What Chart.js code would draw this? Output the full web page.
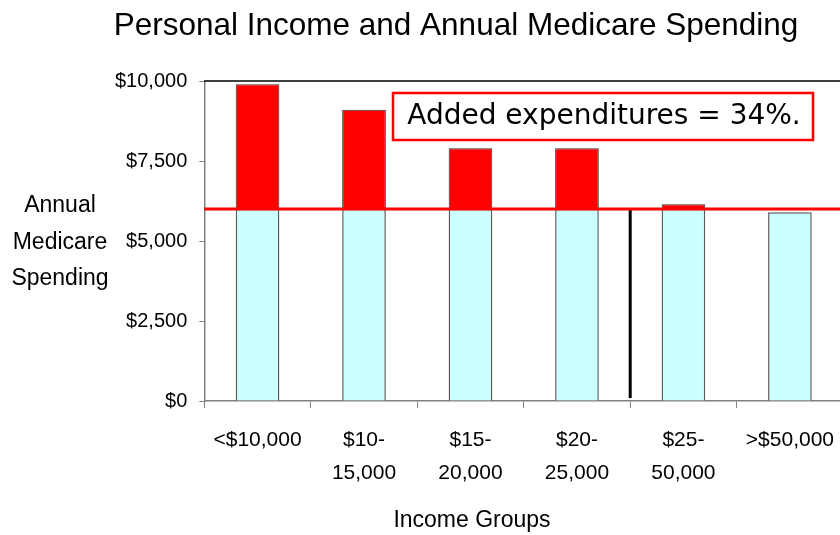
<!DOCTYPE html>
<html>
<head>
<meta charset="utf-8">
<script src="https://cdn.jsdelivr.net/npm/chart.js@4"></script>
<style>
  html, body { margin: 0; padding: 0; background: #fff; overflow: hidden; }
  #wrap { width: 850px; height: 535px; }
</style>
</head>
<body>
<div id="wrap"><canvas id="medicareChart" width="850" height="535"></canvas></div>
<script>
// data
const incomeGroups = [
    '<$10,000',
    ['$10-', '15,000'],
    ['$15-', '20,000'],
    ['$20-', '25,000'],
    ['$25-', '50,000'],
    '>$50,000'
];
const spending = [9900, 9100, 7900, 7900, 6150, 5900];
const baseline = 6000;          // red reference line
const dividerIndex = 3.5;       // black separator between $20-25k and $25-50k
const yTicks = [0, 2500, 5000, 7500, 10000];

// split each bar into the part up to the baseline and the added part
const basePart = spending.map(v => Math.min(v, baseline));
const addedPart = spending.map(v => Math.max(v - baseline, 0));

const FONT = "'Liberation Sans', Arial, sans-serif";

//draws the extra lines and texts that are not part of the chart itself
const extrasPlugin = {
    id: 'extras',
    afterDatasetsDraw(chart) {
        const ctx = chart.ctx;
        const area = chart.chartArea;
        const x = chart.scales.x;
        const y = chart.scales.y;

        ctx.save();

        // top border of plot area
        ctx.strokeStyle = '#000';
        ctx.lineWidth = 1.5;
        ctx.beginPath();
        ctx.moveTo(area.left, area.top);
        ctx.lineTo(area.right, area.top);
        ctx.stroke();

        // black separator
        const dx = x.getPixelForValue(dividerIndex);
        ctx.lineWidth = 3;
        ctx.beginPath();
        ctx.moveTo(dx, y.getPixelForValue(baseline));
        ctx.lineTo(dx, y.getPixelForValue(0) - 3);
        ctx.stroke();

        // red baseline
        const by = y.getPixelForValue(baseline);
        ctx.strokeStyle = '#ff0000';
        ctx.lineWidth = 3;
        ctx.beginPath();
        ctx.moveTo(area.left, by);
        ctx.lineTo(area.right, by);
        ctx.stroke();

        // annotation box
        ctx.fillStyle = '#fff';
        ctx.fillRect(393, 93, 420, 47);
        ctx.strokeStyle = '#ff0000';
        ctx.lineWidth = 2.5;
        ctx.strokeRect(393, 93, 420, 47);
        ctx.fillStyle = '#000';
        ctx.font = "28px 'Comic Sans MS', 'DejaVu Sans', sans-serif";
        ctx.textAlign = 'center';
        ctx.textBaseline = 'middle';
        ctx.fillText('Added expenditures = 34%.', 604, 117);

        // y axis title, not rotated
        ctx.font = '23px ' + FONT;
        ctx.fillText('Annual', 60, 206);
        ctx.fillText('Medicare', 60, 243);
        ctx.fillText('Spending', 60, 279);

        // x axis title
        ctx.fillText('Income Groups', 472, 521);

        // main title
        ctx.font = '31.5px ' + FONT;
        ctx.textBaseline = 'alphabetic';
        ctx.fillText('Personal Income and Annual Medicare Spending', 456, 35);

        ctx.restore();
    }
};

document.addEventListener('DOMContentLoaded', () => {
    const ctx = document.getElementById('medicareChart').getContext('2d');

    new Chart(ctx, {
        type: 'bar',
        data: {
            labels: incomeGroups,
            datasets: [{
                label: 'Spending',
                data: basePart,
                backgroundColor: '#ccffff',
                borderColor: '#5a5a5a',
                borderWidth: 1.5
            }, {
                label: 'Added',
                data: addedPart,
                backgroundColor: '#ff0000',
                borderColor: '#303030',
                borderWidth: 1
            }]
        },
        options: {
            responsive: false,
            animation: false,
            events: [],
            layout: { padding: { left: 103, right: 0, top: 81, bottom: 29 } },
            datasets: { bar: { barPercentage: 0.41, categoryPercentage: 1 } },
            plugins: {
                legend: { display: false },
                tooltip: { enabled: false },
                title: { display: false }
            },
            scales: {
                x: {
                    stacked: true,
                    grid: { drawOnChartArea: false, tickLength: 7, color: '#808080', offset: true },
                    border: { color: '#808080', width: 1.5 },
                    ticks: {
                        color: '#000',
                        font: { family: FONT, size: 21, lineHeight: 1.57 },
                        padding: 16,
                        maxRotation: 0,
                        autoSkip: false
                    }
                },
                y: {
                    stacked: true,
                    min: 0,
                    max: 10000,
                    afterBuildTicks: scale => { scale.ticks = yTicks.map(v => ({ value: v })); },
                    grid: { drawOnChartArea: false, tickLength: 5, color: '#808080' },
                    border: { color: '#808080', width: 1.5 },
                    ticks: {
                        color: '#000',
                        font: { family: FONT, size: 20 },
                        padding: 12,
                        callback: v => '$' + v.toLocaleString('en-US')
                    }
                }
            }
        },
        plugins: [extrasPlugin]
    });
});
</script>
</body>
</html>
